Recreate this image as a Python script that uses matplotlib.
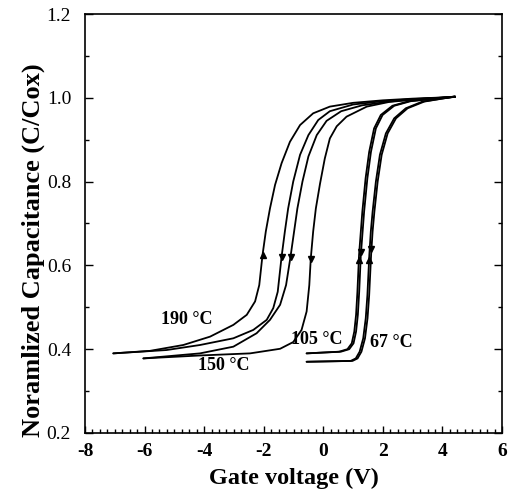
import matplotlib
matplotlib.use("Agg")
import matplotlib.pyplot as plt
from matplotlib.ticker import MultipleLocator

# ---- data ----
# 190 C forward sweep (arrow up)
v190a = [-7.05, -5.82, -4.70, -3.80, -3.02, -2.57, -2.29, -2.15, -2.04, -1.93, -1.79, -1.62, -1.40, -1.12, -0.78, -0.34, 0.22, 1.0, 2.0, 3.0, 4.42]
c190a = [0.390, 0.396, 0.410, 0.430, 0.458, 0.482, 0.514, 0.553, 0.625, 0.681, 0.736, 0.792, 0.844, 0.895, 0.935, 0.963, 0.979, 0.988, 0.994, 0.998, 1.002]
# 190 C reverse sweep (arrow down)
v190b = [-7.05, -5.26, -4.14, -3.02, -2.35, -1.90, -1.68, -1.53, -1.40, -1.29, -1.18, -1.01, -0.78, -0.50, -0.17, 0.22, 1.0, 2.0, 3.0, 4.42]
c190b = [0.390, 0.398, 0.410, 0.426, 0.446, 0.470, 0.498, 0.537, 0.621, 0.681, 0.736, 0.800, 0.864, 0.911, 0.947, 0.968, 0.984, 0.992, 0.997, 1.002]
# 150 C forward sweep
v150a = [-6.04, -4.14, -3.02, -2.24, -1.79, -1.45, -1.25, -1.10, -0.98, -0.87, -0.70, -0.50, -0.22, 0.11, 0.6, 1.3, 2.2, 3.2, 4.42]
c150a = [0.378, 0.390, 0.406, 0.438, 0.470, 0.506, 0.553, 0.621, 0.681, 0.736, 0.800, 0.860, 0.911, 0.945, 0.968, 0.982, 0.991, 0.997, 1.002]
# 150 C reverse sweep
v150b = [-6.04, -4.14, -2.46, -1.45, -1.01, -0.73, -0.56, -0.47, -0.42, -0.34, -0.25, -0.11, 0.05, 0.22, 0.45, 0.78, 1.46, 2.2, 3.2, 4.42]
c150b = [0.378, 0.385, 0.390, 0.401, 0.417, 0.446, 0.490, 0.553, 0.617, 0.681, 0.736, 0.795, 0.855, 0.903, 0.932, 0.955, 0.979, 0.990, 0.997, 1.002]
# 105 C (two nearly overlapping sweeps)
v105a = [-0.56, 0.53, 0.81, 0.955, 1.04, 1.10, 1.145, 1.20, 1.26, 1.31, 1.42, 1.54, 1.705, 1.93, 2.32, 2.88, 4.42]
v105b = [-0.56, 0.59, 0.87, 1.015, 1.10, 1.16, 1.205, 1.26, 1.32, 1.37, 1.48, 1.60, 1.765, 1.99, 2.38, 2.94, 4.42]
c105 = [0.390, 0.394, 0.400, 0.414, 0.442, 0.482, 0.537, 0.625, 0.681, 0.728, 0.808, 0.871, 0.927, 0.959, 0.981, 0.992, 1.003]
# 67 C (two nearly overlapping sweeps)
v67a = [-0.56, 0.92, 1.09, 1.22, 1.34, 1.425, 1.48, 1.545, 1.595, 1.655, 1.765, 1.90, 2.10, 2.38, 2.77, 3.33, 4.42]
v67b = [-0.56, 0.98, 1.15, 1.28, 1.40, 1.485, 1.54, 1.605, 1.655, 1.715, 1.825, 1.96, 2.16, 2.44, 2.83, 3.39, 4.42]
c67 = [0.370, 0.372, 0.378, 0.394, 0.426, 0.474, 0.529, 0.625, 0.681, 0.728, 0.800, 0.864, 0.915, 0.951, 0.975, 0.991, 1.003]

# arrow marker positions (x, y, direction)
arrows_x = [-2.04, -1.40, -1.10, -0.42, 1.26, 1.20, 1.60, 1.55]
arrows_y = [0.624, 0.620, 0.620, 0.616, 0.632, 0.612, 0.640, 0.612]
arrows_m = ['^', 'v', 'v', 'v', 'v', '^', 'v', '^']

labels = ["190 \u00b0C", "150 \u00b0C", "105 \u00b0C", "67 \u00b0C"]
label_x = [-4.58, -3.33, -0.21, 2.27]
label_y = [0.47, 0.360, 0.424, 0.415]

xticks = [-8, -6, -4, -2, 0, 2, 4, 6]
yticks = [0.2, 0.4, 0.6, 0.8, 1.0, 1.2]

# ---- figure ----
serif = ['Liberation Serif', 'DejaVu Serif']
fig = plt.figure(figsize=(5.13, 5.04), dpi=100)
ax = fig.add_axes([0.1657, 0.1409, 0.8129, 0.8313])

curves = [(v190a, c190a), (v190b, c190b), (v150a, c150a), (v150b, c150b),
          (v105a, c105), (v105b, c105), (v67a, c67), (v67b, c67)]
for v, c in curves:
    ax.plot(v, c, color='black', lw=1.3, solid_joinstyle='round', solid_capstyle='round')

for x, y, m in zip(arrows_x, arrows_y, arrows_m):
    ax.plot([x], [y], marker=m, color='black', markersize=4.5, linestyle='none')

for t, x, y in zip(labels, label_x, label_y):
    ax.text(x, y, t, ha='center', va='center', fontsize=13, fontweight='bold', family=serif)

ax.set_xlim(-8, 6)
ax.set_ylim(0.2, 1.2)
ax.set_xticks(xticks)
ax.set_yticks(yticks)
ax.set_xticklabels([str(t) for t in xticks], fontsize=14, fontweight='bold', family=serif)
ax.set_yticklabels(["%.1f" % t for t in yticks], fontsize=14, family=serif)
ax.xaxis.set_minor_locator(MultipleLocator(0.25))
ax.yaxis.set_minor_locator(MultipleLocator(0.1))
ax.tick_params(axis='both', which='both', direction='in', width=1.0)
ax.tick_params(axis='x', which='major', length=5, pad=7)
ax.tick_params(axis='x', which='minor', length=3)
ax.tick_params(axis='y', which='major', length=6, pad=10, right=True)
ax.tick_params(axis='y', which='minor', length=3, right=True)
for s in ax.spines.values():
    s.set_linewidth(1.2)

ax.set_xlabel("Gate voltage (V)", fontsize=17.5, fontweight='bold', family=serif, labelpad=6)
ax.set_ylabel("Noramlized Capacitance (C/Cox)", fontsize=19, fontweight='bold', family=serif)
ax.yaxis.set_label_coords(-0.097, 0.437)

fig.savefig("out.png", dpi=100)
